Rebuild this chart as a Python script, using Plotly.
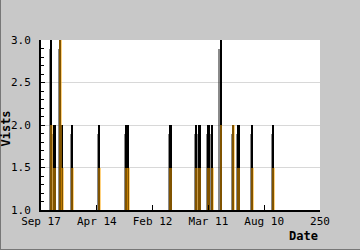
import plotly.graph_objects as go

# --- data ---
days = [9, 12, 17, 19, 28, 52, 76, 78, 116, 139, 142, 150, 153, 161, 172, 177, 189, 208]
visits = [3, 2, 3, 2, 2, 2, 2, 2, 2, 2, 2, 2, 2, 3, 2, 2, 2, 2]
unique = [2, 1.5, 3, 1.5, 1.5, 1.5, 1.5, 1.5, 1.5, 1.5, 1.5, 1.5, 1.5, 2, 2, 1.5, 1.5, 1.5]
tick_vals = [0, 50, 100, 150, 200, 250]
tick_text = ["Sep 17", "Apr 14", "Feb 12", "Mar 11", "Aug 10", "250"]

FONT = "DejaVu Sans Mono"

fig = go.Figure()
# soft grey shading left of each spike
fig.add_trace(go.Bar(x=days, y=[v - 0.1 for v in visits], width=1.6, offset=-2.0,
                     marker=dict(color="rgba(60,60,60,0.6)", line=dict(width=0)),
                     hoverinfo="skip", showlegend=False))
fig.add_trace(go.Bar(x=days, y=visits, width=2.0, offset=-1.0,
                     marker=dict(color="#000000", line=dict(width=0)),
                     showlegend=False))
fig.add_trace(go.Bar(x=days, y=unique, width=2.6, offset=-1.0,
                     marker=dict(color="rgba(255,165,0,0.5)", line=dict(width=0)),
                     showlegend=False))

fig.update_layout(
    width=360, height=250,
    margin=dict(l=41, r=40, t=40, b=40),
    paper_bgcolor="#c8c8c8", plot_bgcolor="#ffffff",
    barmode="overlay", bargap=0,
    font=dict(family=FONT, size=11, color="#000000"),
    xaxis=dict(range=[0, 250], tickvals=tick_vals, ticktext=tick_text,
               ticks="inside", ticklen=5, tickwidth=1, tickcolor="#000",
               showline=True, linecolor="#000", linewidth=2,
               showgrid=False, zeroline=False, fixedrange=True),
    yaxis=dict(range=[1, 3], tickvals=[1, 1.5, 2, 2.5, 3], tickformat=".1f",
               ticks="inside", ticklen=4, tickwidth=1, tickcolor="#000",
               minor=dict(dtick=0.1, ticks="inside", ticklen=2.5, tickcolor="#000", showgrid=False),
               showline=True, linecolor="#000", linewidth=2,
               showgrid=True, gridcolor="#d8d8d8", gridwidth=1,
               zeroline=False, ticklabelstandoff=6),
    annotations=[
        dict(text="<b>Date</b>", xref="paper", yref="paper", x=1.0, y=-0.1,
             xanchor="right", yanchor="top", showarrow=False,
             font=dict(family=FONT, size=12, color="#000")),
        dict(text="<b>Vists</b>", xref="paper", yref="paper", x=-0.125, y=0.48,
             xanchor="center", yanchor="middle", textangle=-90, showarrow=False,
             font=dict(family=FONT, size=12, color="#000")),
    ],
    shapes=[
        dict(type="line", xref="paper", yref="paper",
             x0=-41/279 + 0.5/279, x1=-41/279 + 0.5/279, y0=-40/170, y1=1 + 40/170,
             line=dict(color="#777", width=1)),
        dict(type="line", xref="paper", yref="paper",
             x0=-41/279, x1=1 + 40/279, y0=-40/170 + 0.5/170, y1=-40/170 + 0.5/170,
             line=dict(color="#777", width=1)),
    ],
)

fig.write_html("out.html")
